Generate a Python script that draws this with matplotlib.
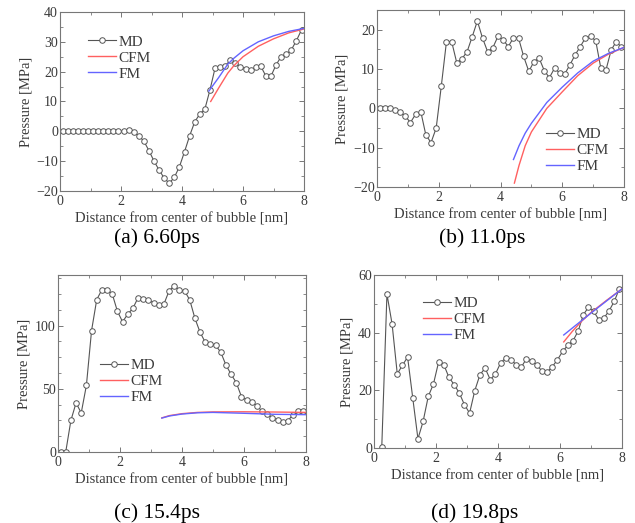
import matplotlib
matplotlib.use("Agg")
import matplotlib.pyplot as plt
from matplotlib.ticker import MultipleLocator

plt.rcParams['font.family'] = ['Liberation Serif', 'DejaVu Serif']

# bin centres of the MD profile [nm]
r = [0.083, 0.25, 0.417, 0.583, 0.75, 0.917, 1.083, 1.25, 1.417, 1.583, 1.75, 1.917,
     2.083, 2.25, 2.417, 2.583, 2.75, 2.917, 3.083, 3.25, 3.417, 3.583, 3.75, 3.917,
     4.083, 4.25, 4.417, 4.583, 4.75, 4.917, 5.083, 5.25, 5.417, 5.583, 5.75, 5.917,
     6.083, 6.25, 6.417, 6.583, 6.75, 6.917, 7.083, 7.25, 7.417, 7.583, 7.75, 7.917]

# (a) 6.60ps
md_a = [0.0, 0.0, 0.0, 0.0, 0.0, 0.0, 0.0, 0.0, 0.0, 0.0, 0.0, 0.0,
        0.1, 0.4, -0.2, -1.5, -3.3, -6.5, -10.0, -13.0, -15.7, -17.4, -15.4, -11.8,
        -6.8, -1.5, 3.2, 5.8, 7.5, 13.9, 21.2, 21.4, 22.0, 23.8, 23.0, 21.6,
        21.0, 20.6, 21.4, 21.8, 18.5, 18.5, 22.3, 25.0, 25.8, 27.3, 30.4, 34.0]
cfm_a_r = [4.94, 5.2, 5.5, 5.7, 6.0, 6.5, 7.0, 7.5, 8.0]
cfm_a = [10.0, 14.5, 19.5, 22.0, 25.0, 28.5, 31.0, 33.0, 34.3]
fm_a_r = [4.88, 5.2, 5.5, 5.7, 6.0, 6.5, 7.0, 7.5, 8.0]
fm_a = [13.5, 18.0, 22.5, 24.5, 27.0, 30.0, 32.0, 33.5, 34.5]

# (b) 11.0ps
md_b = [0.2, 0.2, 0.0, -0.3, -0.9, -2.0, -3.6, -1.5, -0.8, -6.8, -8.7, -5.0,
        5.7, 17.0, 17.0, 11.6, 12.6, 14.4, 18.2, 22.2, 17.9, 14.4, 15.4, 18.3,
        17.5, 15.7, 17.9, 17.9, 13.2, 9.4, 11.9, 12.8, 9.6, 7.8, 10.2, 9.0,
        8.8, 11.1, 13.6, 15.7, 17.9, 18.3, 17.2, 10.2, 9.8, 14.8, 17.0, 15.5]
cfm_b_r = [4.45, 4.6, 4.8, 5.0, 5.5, 6.0, 6.5, 7.0, 7.5, 8.0]
cfm_b = [-19.0, -14.5, -9.5, -6.0, 0.0, 4.2, 8.3, 11.5, 13.8, 15.5]
fm_b_r = [4.42, 4.6, 4.8, 5.0, 5.5, 6.0, 6.5, 7.0, 7.5, 8.0]
fm_b = [-13.0, -9.5, -6.3, -3.8, 1.5, 5.4, 9.0, 12.0, 14.0, 15.5]

# (c) 15.4ps
md_c = [0.0, 0.0, 25.0, 38.8, 30.9, 52.7, 96.0, 120.5, 128.4, 128.4, 125.0, 111.3,
        103.0, 109.0, 113.7, 122.0, 121.0, 120.0, 118.0, 116.0, 117.0, 127.4, 131.6, 128.0,
        127.4, 120.3, 105.7, 94.7, 86.8, 85.5, 84.4, 78.9, 68.8, 61.5, 54.9, 43.8,
        41.1, 39.8, 36.6, 32.2, 30.3, 26.9, 25.6, 23.7, 24.8, 29.5, 32.2, 32.2]
cfm_c_r = [3.35, 3.6, 4.0, 4.5, 5.0, 6.0, 7.0, 8.0]
cfm_c = [27.0, 28.8, 30.3, 31.3, 31.7, 31.8, 31.6, 31.3]
fm_c_r = [3.35, 3.6, 4.0, 4.5, 5.0, 6.0, 7.0, 8.0]
fm_c = [26.8, 28.5, 30.0, 31.0, 31.3, 30.6, 29.8, 29.5]

# (d) 19.8ps (first bin missing)
md_d = [0.3, 53.4, 43.0, 25.7, 28.7, 31.5, 17.3, 3.2, 9.2, 17.9, 22.2,
        29.8, 28.9, 24.5, 22.0, 19.1, 15.0, 12.1, 19.9, 25.4, 27.7, 23.7, 25.7,
        29.5, 31.3, 30.6, 28.9, 28.0, 31.0, 30.1, 28.9, 26.6, 26.3, 28.2, 30.6,
        33.5, 35.6, 37.2, 40.5, 46.2, 48.8, 47.4, 44.5, 45.1, 47.6, 50.9, 55.3]
cfm_d_r = [6.12, 6.4, 6.7, 7.0, 7.5, 8.0]
cfm_d = [36.8, 40.5, 44.0, 47.0, 51.2, 55.2]
fm_d_r = [6.12, 6.5, 7.0, 7.5, 8.0]
fm_d = [39.2, 42.5, 46.8, 51.0, 55.2]

txt = '#3a3a3a'

fig = plt.figure(figsize=(6.35, 5.23), dpi=100)


def panel(rect, x_md, y_md, xc, yc, xf, yf, ylim, ymaj, ymin, leg_xy, caption, cap_xy):
    ax = fig.add_axes(rect)
    ax.plot(x_md, y_md, '-o', color='#555555', lw=0.8, ms=4.0,
            mfc='white', mec='#555555', mew=0.7, label='MD')
    ax.plot(xc, yc, color='#ff6060', lw=1.0, label='CFM')
    ax.plot(xf, yf, color='#6464ff', lw=1.0, label='FM')
    ax.set_xlim(0, 8)
    ax.set_ylim(*ylim)
    ax.xaxis.set_major_locator(MultipleLocator(2))
    ax.xaxis.set_minor_locator(MultipleLocator(1))
    ax.yaxis.set_major_locator(MultipleLocator(ymaj))
    ax.yaxis.set_minor_locator(MultipleLocator(ymin))
    ax.tick_params(which='both', direction='in', top=True, right=True,
                   color='#777777', labelcolor=txt, labelsize=10)
    ax.tick_params(which='major', length=3.5, width=0.7)
    ax.tick_params(which='minor', length=2, width=0.6)
    ax.tick_params(axis='y', pad=1.5)
    ax.tick_params(axis='x', pad=3)
    for s in ax.spines.values():
        s.set_color('#777777')
        s.set_linewidth(0.8)
    ax.set_xlabel('Distance from center of bubble [nm]', fontsize=10.5, color=txt, labelpad=3)
    ax.set_ylabel('Pressure [MPa]', fontsize=10.5, color=txt, labelpad=3)
    ax.legend(loc='upper left', bbox_to_anchor=leg_xy, bbox_transform=fig.transFigure,
              frameon=False, fontsize=11, borderpad=0, borderaxespad=0,
              handlelength=1.85, handletextpad=0.15, labelspacing=0.15,
              labelcolor=txt)
    fig.text(cap_xy[0], cap_xy[1], caption, ha='center', va='center', fontsize=15.5)
    return ax


panel([0.0945, 0.6348, 0.3843, 0.3423], r, md_a, cfm_a_r, cfm_a, fm_a_r, fm_a,
      (-20, 40), 10, 5, (0.1386, 0.933), '(a) 6.60ps', (0.247, 0.545))
panel([0.5937, 0.6424, 0.389, 0.3384], r, md_b, cfm_b_r, cfm_b, fm_b_r, fm_b,
      (-20, 25), 10, 5, (0.860, 0.756), '(b) 11.0ps', (0.759, 0.545))
panel([0.0913, 0.1358, 0.3906, 0.3384], r, md_c, cfm_c_r, cfm_c, fm_c_r, fm_c,
      (0, 140), 50, 12.5, (0.157, 0.314), '(c) 15.4ps', (0.247, 0.019))
panel([0.589, 0.1434, 0.3906, 0.3308], r[1:], md_d, cfm_d_r, cfm_d, fm_d_r, fm_d,
      (0, 60), 20, 10, (0.666, 0.433), '(d) 19.8ps', (0.748, 0.019))

fig.savefig('out.png', dpi=100)
